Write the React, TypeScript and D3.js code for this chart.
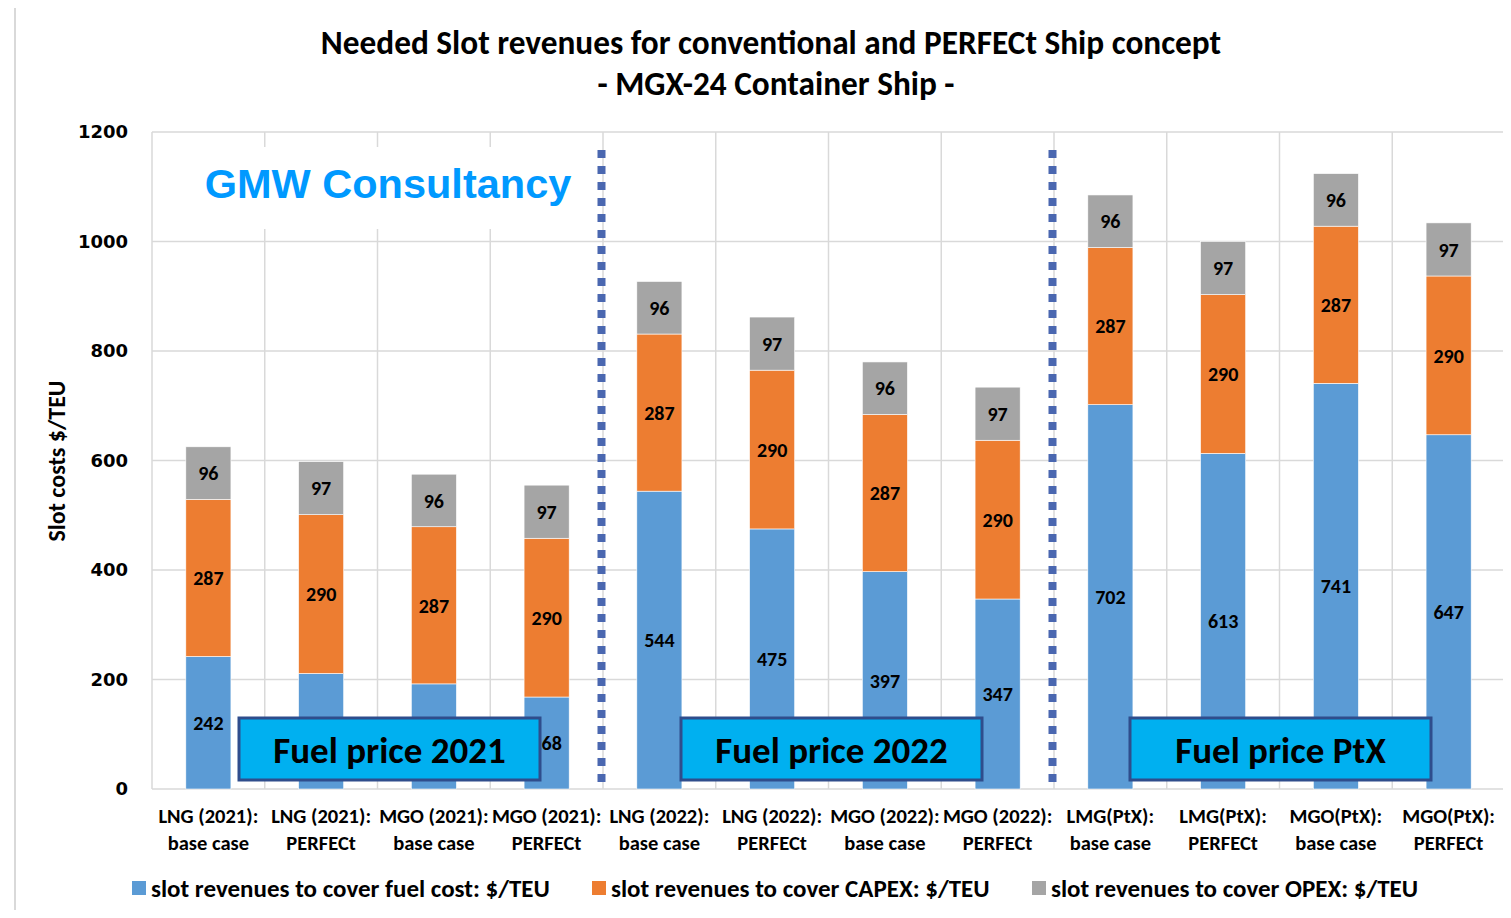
import React from 'react'
import * as d3 from 'd3'

const categories = [
  ['LNG (2021):', 'base case'],
  ['LNG (2021):', 'PERFECt'],
  ['MGO (2021):', 'base case'],
  ['MGO (2021):', 'PERFECt'],
  ['LNG (2022):', 'base case'],
  ['LNG (2022):', 'PERFECt'],
  ['MGO (2022):', 'base case'],
  ['MGO (2022):', 'PERFECt'],
  ['LMG(PtX):', 'base case'],
  ['LMG(PtX):', 'PERFECt'],
  ['MGO(PtX):', 'base case'],
  ['MGO(PtX):', 'PERFECt'],
]
const fuelCost = [242, 211, 192, 168, 544, 475, 397, 347, 702, 613, 741, 647]
const capex = [287, 290, 287, 290, 287, 290, 287, 290, 287, 290, 287, 290]
const opex = [96, 97, 96, 97, 96, 97, 96, 97, 96, 97, 96, 97]
const yTicks = [0, 200, 400, 600, 800, 1000, 1200]
const seriesNames = [
  'slot revenues to cover fuel cost: $/TEU',
  'slot revenues to cover CAPEX: $/TEU',
  'slot revenues to cover OPEX: $/TEU',
]
const seriesColors = ['#5B9BD5', '#ED7D31', '#A5A5A5']
const groups = ['Fuel price 2021', 'Fuel price 2022', 'Fuel price PtX']

const W = 1511
const H = 918
const plot = { left: 152, right: 1505, top: 132, bottom: 789 }
const calibri = "Carlito, 'Open Sans', sans-serif"
const boxes = [239, 681, 1130].map((bx) => ({ x: bx, y: 718, w: 301, h: 62 }))

export default function App() {
  const idx = categories.map((_, i) => String(i))
  const x = d3.scaleBand<string>().domain(idx).range([plot.left, plot.right]).paddingInner(0.6).paddingOuter(0.3)
  const y = d3.scaleLinear().domain([0, 1200]).range([plot.bottom, plot.top])
  const step = x.step()

  const rows = categories.map((_, i) => ({ key: String(i), fuel: fuelCost[i], capex: capex[i], opex: opex[i] }))
  const stack = d3.stack<any>().keys(['fuel', 'capex', 'opex'])(rows)

  const boundaries = d3.range(categories.length + 1).map((i) => plot.left + i * step)
  const dividers = [4, 8].map((i) => plot.left + i * step - 1.5)

  // labels whose centre falls under a group box are hidden, as in the original
  const hidden = (cx: number, cy: number) =>
    boxes.some((b) => cx > b.x && cx < b.x + b.w && cy > b.y && cy < b.y + b.h)

  return (
    <div style={{ margin: -8 }}>
      <svg width={W} height={H} style={{ display: 'block', background: '#fff' }}>
        <rect x={15} y={6} width={W} height={H} fill="none" stroke="#d9d9d9" strokeWidth={2} />

        {/* gridlines */}
        {yTicks.map((t) => (
          <line key={t} x1={plot.left} x2={plot.right} y1={y(t)} y2={y(t)} stroke="#d9d9d9" strokeWidth={1.5} />
        ))}
        {boundaries.map((b, i) => (
          <line key={i} x1={b} x2={b} y1={plot.top} y2={plot.bottom} stroke="#d9d9d9" strokeWidth={1.5} />
        ))}

        {/* watermark */}
        <rect x={155} y={147} width={440} height={82} fill="#fff" />
        <text x={388} y={198} textAnchor="middle" fontFamily="'Liberation Sans', Arial, sans-serif" fontWeight="bold" fontSize={41.5} fill="#0099FF">
          GMW Consultancy
        </text>

        {/* bars */}
        {stack.map((s, si) =>
          s.map((d, i) => (
            <rect
              key={`${si}-${i}`}
              x={x(String(i))}
              y={y(d[1])}
              width={x.bandwidth()}
              height={y(d[0]) - y(d[1])}
              fill={seriesColors[si]}
              stroke="#fff"
              strokeWidth={0.6}
            />
          ))
        )}
        {stack.map((s, si) =>
          s.map((d, i) => {
            const cx = (x(String(i)) as number) + x.bandwidth() / 2
            const cy = (y(d[0]) + y(d[1])) / 2
            if (hidden(cx, cy)) return null
            return (
              <text
                key={`l${si}-${i}`}
                x={cx}
                y={cy}
                dy="0.36em"
                textAnchor="middle"
                fontFamily={calibri}
                fontWeight="bold"
                fontSize={20}
                fill="#000"
              >
                {d[1] - d[0]}
              </text>
            )
          })
        )}

        {/* dotted dividers */}
        {dividers.map((dx, i) => (
          <line key={i} x1={dx} x2={dx} y1={150} y2={782} stroke="#4A67B0" strokeWidth={8} strokeDasharray="8 8" />
        ))}

        {/* group boxes */}
        {groups.map((g, i) => {
          const b = boxes[i]
          return (
            <g key={g}>
              <rect x={b.x} y={b.y} width={b.w} height={b.h} fill="#00B0F0" stroke="#2F4D8C" strokeWidth={3} />
              <text x={b.x + b.w / 2} y={b.y + 32} dy="0.36em" textAnchor="middle" fontFamily={calibri} fontWeight="bold" fontSize={37} fill="#000">
                {g}
              </text>
            </g>
          )
        })}

        {/* y axis */}
        {yTicks.map((t) => (
          <text key={t} x={128} y={y(t)} dy="0.36em" textAnchor="end" fontFamily="'DejaVu Sans', sans-serif" fontWeight="bold" fontSize={18}>
            {t}
          </text>
        ))}
        <text transform={`translate(65,461) rotate(-90)`} textAnchor="middle" fontFamily={calibri} fontWeight="bold" fontSize={24}>
          Slot costs $/TEU
        </text>

        {/* x axis */}
        {categories.map((c, i) => (
          <text key={i} textAnchor="middle" fontFamily={calibri} fontWeight="bold" fontSize={20.5}>
            <tspan x={(x(String(i)) as number) + x.bandwidth() / 2} y={823}>{c[0]}</tspan>
            <tspan x={(x(String(i)) as number) + x.bandwidth() / 2} y={850}>{c[1]}</tspan>
          </text>
        ))}

        {/* title */}
        <text x={771} y={54} textAnchor="middle" fontFamily={calibri} fontWeight="bold" fontSize={33.3}>
          Needed Slot revenues for conventional and PERFECt Ship concept
        </text>
        <text x={776} y={95} textAnchor="middle" fontFamily={calibri} fontWeight="bold" fontSize={33.3}>
          - MGX-24 Container Ship -
        </text>

        {/* legend */}
        {seriesNames.map((n, i) => {
          const lx = [132, 592, 1032][i]
          return (
            <g key={n}>
              <rect x={lx} y={881} width={14} height={14} fill={seriesColors[i]} />
              <text x={lx + 19} y={888} dy="0.36em" fontFamily={calibri} fontWeight="bold" fontSize={25}>
                {n}
              </text>
            </g>
          )
        })}
      </svg>
    </div>
  )
}
